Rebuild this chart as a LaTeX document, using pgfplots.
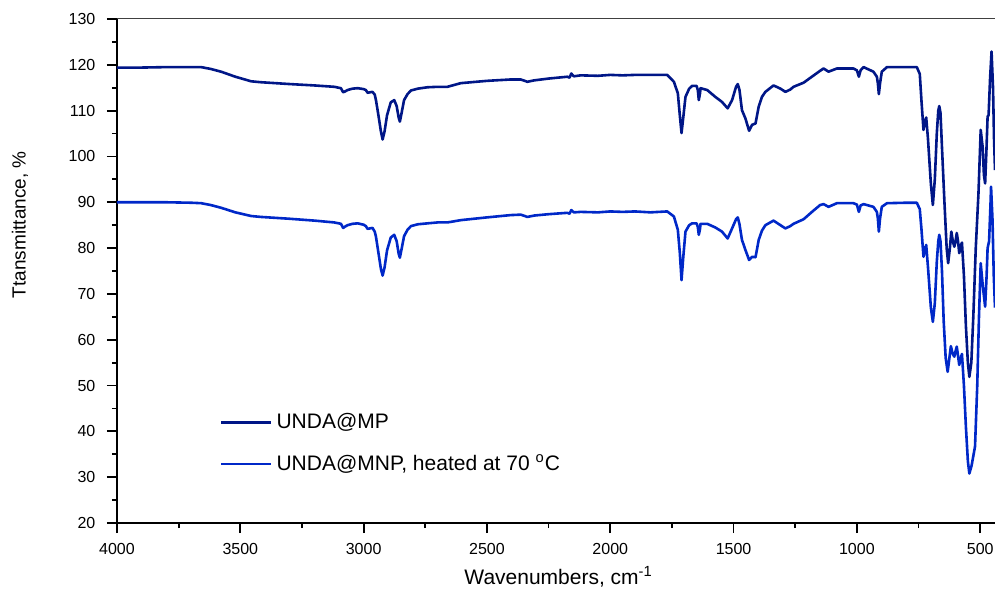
\documentclass[border=0pt]{standalone}
\usepackage{fontspec}
\setmainfont{Liberation Sans}
\usepackage{pgfplots}
\pgfplotsset{compat=1.18}
\definecolor{topc}{RGB}{0,22,135}
\definecolor{botc}{RGB}{0,40,200}
\begin{document}
\begin{tikzpicture}
\useasboundingbox (-58.5pt,-33.5pt) rectangle (439pt,261.5pt);
\begin{axis}[
  scale only axis, width=439pt, height=252pt,
  x dir=reverse, xmin=440, xmax=4000, ymin=20, ymax=130,
  xtick={500,1000,...,4000}, ytick={20,30,...,130},
  minor x tick num=1, minor y tick num=1,
  tick align=outside, major tick length=5pt, minor tick length=2.5pt,
  axis x line*=bottom, axis y line*=left,
  axis line style={-, line width=1pt, black},
  every tick/.style={black, line width=0.9pt},
  /pgf/number format/assume math mode=true,
  /pgf/number format/1000 sep={},
  ticklabel style={font=\fontsize{8}{9.6}\selectfont},
  xticklabel style={yshift=-1.8pt},
  yticklabel style={xshift=-2.3pt},
  clip=false,
  xlabel={Wavenumbers, cm\textsuperscript{-1}},
  ylabel={Ttansmittance, \%},
  every axis x label/.style={at={(axis description cs:0.503,-0.107)}, anchor=center, font=\fontsize{10.5}{12.6}\selectfont},
  every axis y label/.style={at={(axis description cs:-0.1105,0.592)}, rotate=90, anchor=center, font=\fontsize{9.5}{11.4}\selectfont},
  legend style={at={(axis description cs:0.1173,0.158)}, anchor=west, draw=none, fill=none, inner sep=0pt,
    font=\fontsize{10.5}{12.6}\selectfont, row sep=7.5pt},
  legend cell align=left,
  legend image code/.code={\draw[#1, line width=1.1pt] (0pt,0pt) -- (25pt,0pt);},
]
\draw[line width=0.5pt, black!75] (rel axis cs:0,1) -- (rel axis cs:1,1);
\addplot[topc, line width=1.3pt, line join=round] coordinates {
(4000,119.4)(3900,119.4)(3800,119.5)(3700,119.5)(3659,119.5)(3620,119.1)(3578,118.5)(3520,117.4)(3456,116.4)(3416,116.2)
(3300,115.8)(3200,115.5)(3119,115.2)(3092,114.9)(3083,114.0)(3075,114.2)(3065,114.5)(3045,114.8)(3024,114.9)(3000,114.7)
(2991,114.5)(2984,113.9)(2964,114.1)(2955,113.5)(2950,112.3)(2940,109)(2930,105.5)(2923,103.7)(2915,105.5)(2905,109.0)
(2890,111.8)(2876,112.3)(2866,111)(2858,108.5)(2853,107.6)(2846,109.5)(2836,112.3)(2822,113.6)(2808,114.4)(2780,114.8)
(2741,115.1)(2700,115.2)(2660,115.2)(2606,116.0)(2500,116.5)(2404,116.8)(2363,116.8)(2336,116.3)(2309,116.6)(2250,117.0)
(2174,117.4)(2165,117.2)(2158,118.1)(2150,117.6)(2147,117.5)(2120,117.7)(2050,117.6)(2000,117.8)(1950,117.7)(1900,117.8)
(1837,117.8)(1769,117.8)(1742,116.3)(1726,113.8)(1718,109)(1711,105.1)(1704,108.5)(1695,113.0)(1680,114.8)(1668,115.4)
(1650,115.4)(1645,114.5)(1641,112.3)(1636,113.8)(1634,114.9)(1607,114.5)(1574,113.0)(1547,111.9)(1524,110.5)(1506,112.3)
(1490,115.2)(1483,115.8)(1476,114.5)(1466,110.1)(1452,108.3)(1437,105.6)(1425,106.9)(1411,107.2)(1398,110.9)(1385,113)
(1371,114.1)(1338,115.5)(1310,114.8)(1290,114.1)(1270,114.6)(1257,115.2)(1216,116.1)(1180,117.5)(1149,118.7)(1135,119.2)
(1115,118.5)(1081,119.2)(1014,119.2)(1000,118.8)(992,117.4)(985,118.8)(973,119.5)(933,118.5)(919,117.4)(915,116)
(911,113.6)(906,116)(899,118.5)(878,119.5)(800,119.5)(757,119.5)(745,118)(738,112)(730,105.8)(725,107.5)
(719,108.5)(712,104)(700,94)(692,89.4)(684,95)(676,105)(670,110)(666,111)(661,109.5)(655,102)
(645,90)(636,80)(630,76.7)(623,80)(617,83.6)(611,81.5)(605,80.3)(600,81.5)(595,83.3)(590,81.5)
(585,78.9)(579,80.5)(574,81.2)(566,74)(558,63)(550,55)(544,51.9)(536,55)(528,65)(518,80)
(507,92)(498,105.8)(490,102)(485,96)(480,94.1)(475,101)(470,108.7)(466,109)(460,117)(454,122.9)
(448,115)(444,104)(440,97)
};
\addlegendentry{UNDA@MP}
\addplot[botc, line width=1.3pt, line join=round] coordinates {
(4000,90.0)(3900,90.0)(3800,90.0)(3700,89.9)(3659,89.8)(3620,89.4)(3578,88.8)(3520,87.8)(3456,87.0)(3416,86.8)
(3300,86.4)(3200,86.0)(3119,85.6)(3092,85.3)(3083,84.4)(3075,84.7)(3065,85.0)(3045,85.3)(3024,85.4)(3000,85.1)
(2991,84.8)(2984,84.2)(2964,84.4)(2955,83.6)(2950,82.5)(2940,79)(2930,75.5)(2923,74.0)(2915,75.8)(2905,79.5)
(2890,82.3)(2876,82.9)(2866,81.5)(2858,78.8)(2853,77.9)(2846,79.8)(2836,82.6)(2822,84.0)(2808,84.8)(2780,85.2)
(2741,85.4)(2700,85.6)(2660,85.6)(2606,86.1)(2500,86.7)(2404,87.2)(2363,87.3)(2336,86.8)(2309,87.1)(2250,87.4)
(2174,87.7)(2165,87.5)(2158,88.3)(2150,87.9)(2147,87.8)(2120,87.9)(2050,87.8)(2000,88.0)(1950,87.9)(1900,88.0)
(1837,87.8)(1769,88.0)(1742,86.9)(1726,84.0)(1718,79)(1711,73.0)(1704,78)(1695,83.6)(1680,85.0)(1668,85.4)
(1650,85.4)(1645,84.6)(1641,82.9)(1636,84.2)(1634,85.3)(1607,85.3)(1574,84.5)(1547,83.6)(1524,82.1)(1506,84.3)
(1490,86.3)(1483,86.7)(1476,85.2)(1466,81.8)(1452,79.6)(1437,77.4)(1425,78.1)(1411,78.0)(1398,81.8)(1385,83.8)
(1371,85.0)(1338,86.0)(1310,85.0)(1290,84.3)(1270,84.8)(1257,85.3)(1216,86.3)(1180,88.0)(1149,89.4)(1135,89.6)
(1115,89.0)(1081,89.8)(1014,89.8)(1000,89.5)(992,87.9)(985,89.3)(973,89.6)(933,89.0)(919,87.9)(915,86.5)
(911,83.6)(906,86.5)(899,89.0)(878,89.8)(800,89.9)(757,89.9)(745,88.5)(738,84)(730,78.1)(725,79.5)
(719,80.7)(712,76)(700,67)(692,63.9)(684,68)(676,77)(670,81.5)(666,82.9)(661,81.5)(655,75)
(648,64)(640,56)(632,53.0)(625,56)(619,58.6)(612,57)(605,56.3)(600,57.5)(595,58.5)(590,56.5)
(585,54.5)(579,56)(574,56.9)(566,50)(558,41)(550,33.5)(544,30.8)(535,32.5)(521,36.7)(512,50)
(505,65)(498,76.7)(490,72)(480,67.2)(474,74)(470,80.0)(464,81.5)(458,90)(456,93.4)(450,86)
(445,74)(440,67)
};
\addlegendentry{UNDA@MNP, heated at 70 \textsuperscript{o}C}
\end{axis}
\end{tikzpicture}
\end{document}
